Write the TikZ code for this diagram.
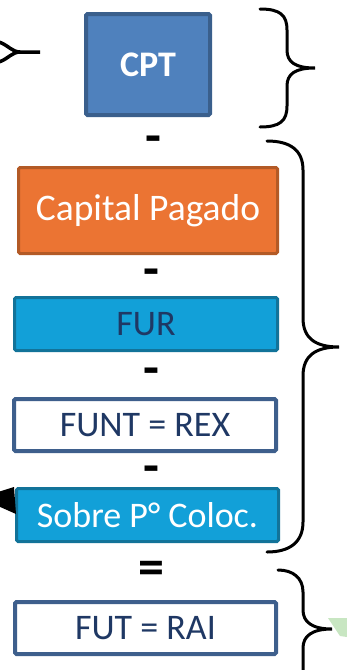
\documentclass[tikz,border=0pt]{standalone}
\usepackage{fontspec}
\setmainfont{Carlito}
\definecolor{cptfill}{HTML}{4F81BD}
\definecolor{cptedge}{HTML}{3A5F8C}
\definecolor{orfill}{HTML}{EB7433}
\definecolor{oredge}{HTML}{B35A26}
\definecolor{skyfill}{HTML}{12A0D8}
\definecolor{skyedge}{HTML}{127399}
\definecolor{navyedge}{HTML}{3E5F8C}
\definecolor{navytext}{HTML}{1F3864}
\definecolor{paleleaf}{HTML}{C8E6C2}
\tikzset{
  box/.style={rectangle, inner sep=0pt, rounded corners=1.5pt, font=\fontsize{36}{40}\selectfont},
  cptbox/.style={box, fill=cptfill, draw=cptedge, line width=4pt, text=white, font=\fontsize{36}{40}\selectfont\bfseries},
  orangebox/.style={box, fill=orfill, draw=oredge, line width=3pt, text=white, font=\fontsize{37.5}{42}\selectfont},
  skybox/.style={box, fill=skyfill, draw=skyedge, line width=3pt},
  whitebox/.style={box, fill=white, draw=navyedge, line width=4pt, text=navytext},
  op/.style={inner sep=0pt, font=\fontsize{52}{52}\selectfont\bfseries},
  brace/.style={draw=black, line width=3pt, line cap=round},
}
\begin{document}
\begin{tikzpicture}[x=1pt, y=-1pt]
\useasboundingbox (0,0) rectangle (346,670);
% stack of boxes
\node[cptbox, minimum width=124pt, minimum height=101pt] (cpt) at (148,64.5) {CPT};
\node[orangebox, minimum width=259pt, minimum height=86pt] (cap) at (148,210.5) {Capital Pagado};
\node[skybox, text=navytext, minimum width=263pt, minimum height=53pt] (fur) at (146,324) {FUR};
\node[whitebox, minimum width=262pt, minimum height=52pt] (funt) at (145,425) {FUNT = REX};
\node[skybox, text=white, minimum width=262pt, minimum height=53pt] (sobre) at (147.5,515) {Sobre P° Coloc.};
\node[whitebox, minimum width=261pt, minimum height=52pt] (fut) at (145.5,628) {FUT = RAI};
% operators between boxes
\node[op] (m1) at (153,144.5) {-};
\node[op] (m2) at (151,278) {-};
\node[op] (m3) at (151,377) {-};
\node[op] (m4) at (151,475) {-};
\node[op] (eq) at (151.5,573) {=};
% braces
\draw[brace] (260,9) .. controls (280,9) and (287,15) .. (287,30) -- (287,50)
  .. controls (287,62) and (295,68) .. (315,68)
  .. controls (295,68) and (287,74) .. (287,86) -- (287,106)
  .. controls (287,121) and (280,127) .. (260,127);
\draw[brace] (267,141) .. controls (290,141) and (303,150) .. (303,170) -- (303,318)
  .. controls (303,338) and (315,347) .. (339,347)
  .. controls (315,347) and (303,356) .. (303,376) -- (303,522)
  .. controls (303,542) and (290,552) .. (267,552);
\draw[brace] (278,570) .. controls (293,570) and (303,578) .. (303,592) -- (303,610)
  .. controls (303,622) and (312,629) .. (332,629)
  .. controls (312,629) and (303,636) .. (303,648) -- (303,672);
% brace tip entering from the left
\draw[draw=black, line width=3.5pt] (-1,42) .. controls (8,45) and (12,52) .. (20,52) -- (40,52);
\draw[draw=black, line width=3.5pt] (-1,62) .. controls (8,59) and (12,52) .. (20,52);
% arrowhead ending at the last blue box
\fill[black] (14,487) -- (-2,492) -- (-2,506) -- (16,514) -- cycle;
% pale green marker at the right edge
\fill[paleleaf] (328,618) -- (347,618) -- (347,637) -- (340,636) -- cycle;
\end{tikzpicture}
\end{document}
